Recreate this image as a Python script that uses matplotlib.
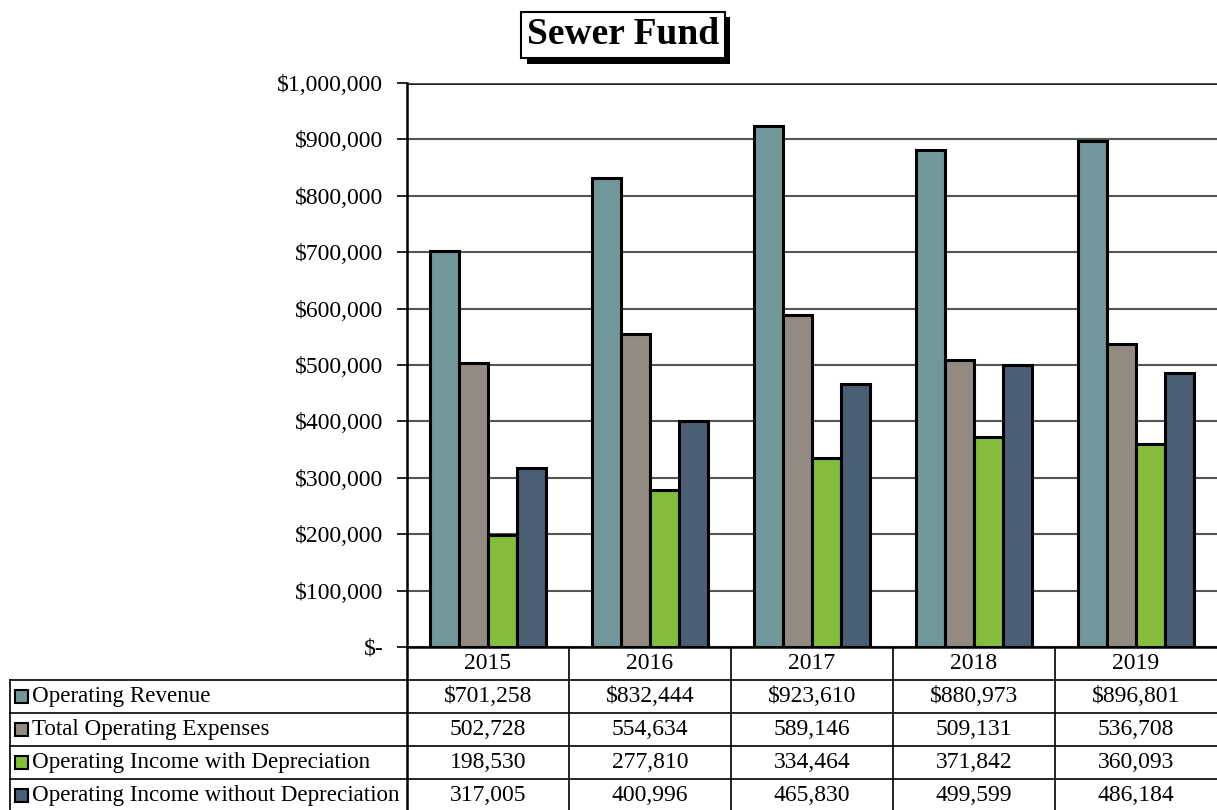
import matplotlib.pyplot as plt
import matplotlib.patheffects as pe
import matplotlib.transforms as mtransforms
from matplotlib.patches import Rectangle
from matplotlib.ticker import FuncFormatter

years = ["2015", "2016", "2017", "2018", "2019"]
series_names = ["Operating Revenue", "Total Operating Expenses",
                "Operating Income with Depreciation", "Operating Income without Depreciation"]
revenue = [701258, 832444, 923610, 880973, 896801]
expenses = [502728, 554634, 589146, 509131, 536708]
income_with_dep = [198530, 277810, 334464, 371842, 360093]
income_without_dep = [317005, 400996, 465830, 499599, 486184]
colors = ["#72979a", "#938a82", "#84bc3c", "#4a5e74"]

series = [revenue, expenses, income_with_dep, income_without_dep]

plt.rcParams['font.family'] = ['Liberation Serif', 'DejaVu Serif']

W, H = 1217, 810
fig = plt.figure(figsize=(W / 100, H / 100), dpi=100)

# plot area in pixels
left, right, top, bottom = 407, 1217, 83, 647
ax = fig.add_axes([left / W, 1 - bottom / H, (right - left) / W, (bottom - top) / H])

bw = 0.18
for k, vals in enumerate(series):
    xs = [i + (k - 1.5) * bw for i in range(len(years))]
    ax.bar(xs, vals, width=bw, color=colors[k], edgecolor="black", linewidth=2.2, zorder=3)

ax.set_xlim(-0.5, len(years) - 0.5)
ax.set_ylim(0, 1000000)
ax.set_yticks(range(0, 1000001, 100000))
ax.yaxis.set_major_formatter(FuncFormatter(lambda v, p: "$-" if v == 0 else "${:,.0f}".format(v)))
ax.tick_params(axis="y", labelsize=17, length=7, width=1.2, pad=10, colors="black")
ax.set_xticks([])
ax.grid(axis="y", color="#555555", linewidth=1.5, zorder=0)
ax.axhline(1000000, color="black", linewidth=2, zorder=1)
for s in ["top", "right"]:
    ax.spines[s].set_visible(False)
ax.spines["left"].set_linewidth(1.8)
ax.spines["bottom"].set_linewidth(1.8)

# data table below the plot
trans = mtransforms.blended_transform_factory(ax.transData, fig.transFigure)
def fy(px):
    return 1 - px / H
def fx(px):
    return px / W

row_h = 33
n_rows = len(series)
y_lines = [bottom + row_h * (r + 1) for r in range(n_rows)]
for y in y_lines:
    fig.add_artist(plt.Line2D([fx(10), 1], [fy(y), fy(y)], color="black", linewidth=1.2))
# vertical lines
fig.add_artist(plt.Line2D([fx(10), fx(10)], [fy(bottom + row_h), 0], color="black", linewidth=1.2))
fig.add_artist(plt.Line2D([fx(left), fx(left)], [fy(bottom), 0], color="black", linewidth=1.8))
for i in range(1, len(years)):
    fig.add_artist(plt.Line2D([i - 0.5, i - 0.5], [fy(bottom), 0], transform=trans,
                              color="black", linewidth=1.2))

for i, yr in enumerate(years):
    fig.text(i, fy(bottom + row_h / 2), yr, transform=trans, ha="center", va="center", fontsize=17)

for r, (name, vals) in enumerate(zip(series_names, series)):
    yc = fy(bottom + row_h * (r + 1.5))
    fig.add_artist(Rectangle((fx(15), yc - 6.5 / H), 13 / W, 13 / H, transform=fig.transFigure,
                             facecolor=colors[r], edgecolor="black", linewidth=1.5))
    fig.text(fx(32), yc, name, ha="left", va="center", fontsize=16.6)
    for i, v in enumerate(vals):
        label = "${:,}".format(v) if r == 0 else "{:,}".format(v)
        fig.text(i, yc, label, transform=trans, ha="center", va="center", fontsize=17)

# title with shadowed box
t = fig.text(fx(623), fy(35), "Sewer Fund", ha="center", va="center", fontsize=27, fontweight="bold",
             bbox=dict(boxstyle="square,pad=0.15", facecolor="white", edgecolor="black", linewidth=1.5))
t.get_bbox_patch().set_path_effects([pe.SimplePatchShadow(offset=(4, -4), shadow_rgbFace="black", alpha=1),
                                     pe.Normal()])

fig.savefig("out.png", dpi=100)
